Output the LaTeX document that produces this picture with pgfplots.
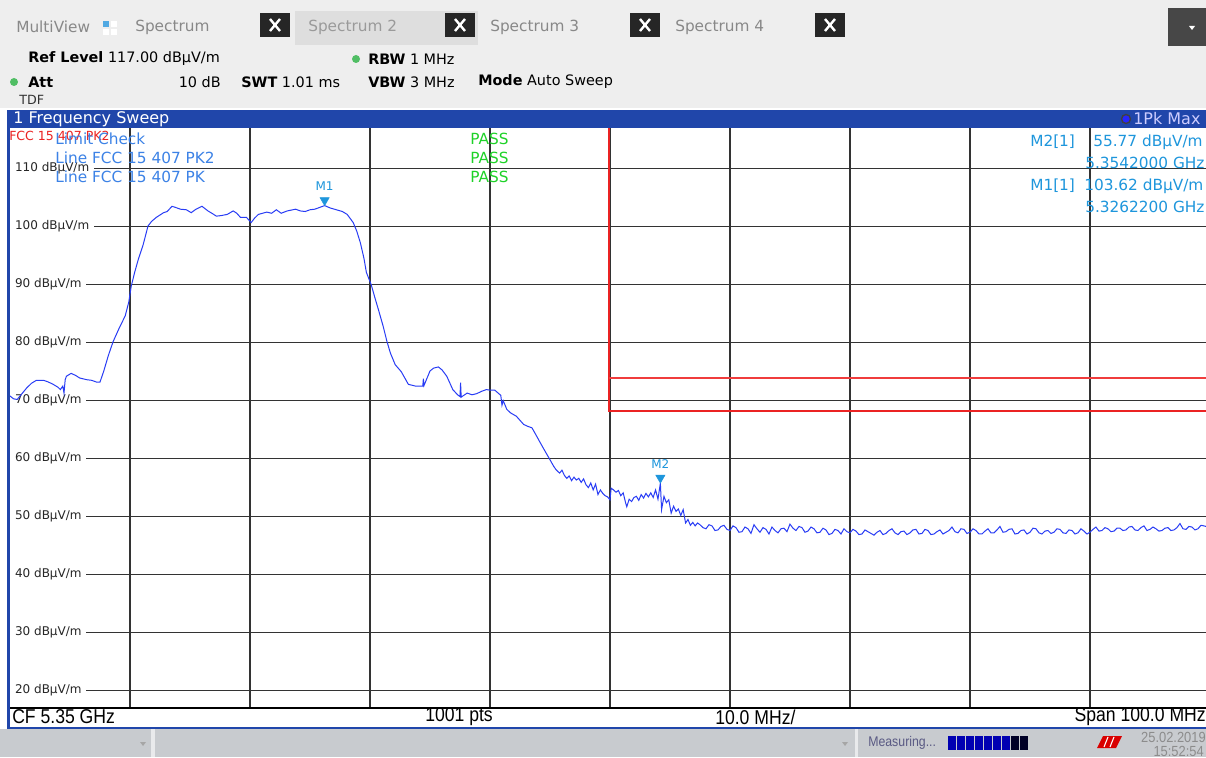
\documentclass[border=0pt]{standalone}
\usepackage{pgfplots}
\pgfplotsset{compat=1.18}
\usepackage{fontspec}
\setmainfont{DejaVu Sans}
\newfontfamily\narrow[FakeStretch=0.88]{Liberation Sans}
\newcommand\fs[1]{\fontsize{#1}{#1}\selectfont}

\definecolor{rsblue}{RGB}{32,70,170}
\definecolor{trace}{RGB}{40,60,245}
\definecolor{mkblue}{RGB}{30,150,220}
\definecolor{lcblue}{RGB}{60,130,230}
\definecolor{passgreen}{RGB}{30,210,40}
\definecolor{limred}{RGB}{235,35,35}
\definecolor{limred2}{RGB}{240,60,60}
\definecolor{hdrgray}{RGB}{238,238,238}
\definecolor{tabgray}{RGB}{136,136,136}
\definecolor{statgray}{RGB}{200,203,207}
\definecolor{dotgreen}{RGB}{80,190,100}

\begin{document}
\begin{tikzpicture}[x=0.75pt,y=0.75pt]
\path[use as bounding box, clip] (0,0) rectangle (1206,757);
\fill[white] (0,0) rectangle (1206,757);

% header
\fill[hdrgray] (0,649) rectangle (1206,757);
\fill[black!13] (295,712) rectangle (478,746);
\foreach \cx in {275,460,645,830} {
  \fill[black!85] (\cx-15,720) rectangle (\cx+15,744);
  \draw[white, line width=1.8pt] (\cx-5,726)--(\cx+5,738) (\cx-5,738)--(\cx+5,726);
}
\fill[black!72] (1168,711) rectangle (1206,749);
\fill[white] (1189,731) -- (1195,731) -- (1192,727) -- cycle;
\node[anchor=west, text=tabgray, font=\fs{11.5}, inner sep=0] at (16,730) {MultiView};
\fill[cyan!75!blue!70] (103,730) rectangle (109,736);
\fill[white] (111,730) rectangle (117,736);
\fill[white] (103,722) rectangle (109,728);
\fill[white] (111,722) rectangle (117,728);
\node[anchor=west, text=tabgray, font=\fs{11.5}, inner sep=0] at (135,730) {Spectrum};
\node[anchor=west, text=tabgray!85, font=\fs{11.5}, inner sep=0] at (308,730) {Spectrum 2};
\node[anchor=west, text=tabgray, font=\fs{11.5}, inner sep=0] at (490,730) {Spectrum 3};
\node[anchor=west, text=tabgray, font=\fs{11.5}, inner sep=0] at (675,730) {Spectrum 4};

\node[anchor=west, font=\fs{10.8}, inner sep=0] at (28,698) {\textbf{Ref Level} 117.00 dBµV/m};
\fill[dotgreen] (356,698) circle (4);
\node[anchor=west, font=\fs{10.8}, inner sep=0] at (368,698) {\textbf{RBW} 1 MHz};
\fill[dotgreen] (14,675) circle (4);
\node[anchor=west, font=\fs{10.8}, inner sep=0] at (28,675) {\textbf{Att}};
\node[anchor=east, font=\fs{10.8}, inner sep=0] at (221,675) {10 dB};
\node[anchor=west, font=\fs{10.8}, inner sep=0] at (241,675) {\textbf{SWT} 1.01 ms};
\node[anchor=west, font=\fs{10.8}, inner sep=0] at (368,675) {\textbf{VBW} 3 MHz};
\node[anchor=west, font=\fs{10.8}, inner sep=0] at (478,675) {\textbf{Mode} Auto Sweep};
\node[anchor=west, font=\fs{9.5}, text=black!80, inner sep=0] at (19,657) {TDF};

% title bar
\fill[rsblue] (7,629) rectangle (1206,647);
\node[anchor=west, text=white, font=\fs{12}, inner sep=0] at (13,638) {1 Frequency Sweep};
\filldraw[fill=blue!85!white, draw=black!75, line width=1pt] (1126,638) circle (4.5);
\node[anchor=west, text=white!80!blue, font=\fs{12}, inner sep=0] at (1133,638) {1Pk Max};

\begin{axis}[
    at={(7.5pt,36.75pt)}, anchor=south west,
    scale only axis,
    width=897pt, height=435pt,
    xmin=5300, xmax=5399.67,
    ymin=17, ymax=117,
    axis line style={draw=none},
    tick style={draw=none},
    grid=major,
    major grid style={black!80, line width=0.9pt},
    xtick={5310,5320,...,5390},
    xticklabels={},
    ytick={20,30,...,110},
    yticklabels={20 dBµV/m,30 dBµV/m,40 dBµV/m,50 dBµV/m,60 dBµV/m,70 dBµV/m,80 dBµV/m,90 dBµV/m,100 dBµV/m,110 dBµV/m},
    yticklabel style={anchor=west, xshift=0pt, fill=white, inner xsep=3.6pt, inner ysep=1pt, font=\fs{9}, text=black!85},
    ]
    % limit lines
    \addplot[limred, line width=1.2pt] coordinates {
        (5349.92,117) (5349.92,68.2) (5399.67,68.2)
    };
    \addplot[draw=limred2, line width=1.5pt] coordinates {
        (5349.92,73.93) (5399.67,73.93)
    };
    % trace 1Pk Max
    \addplot[trace, line width=0.75pt] coordinates {
        (5300.0,70.8) (5300.3,70.3) (5300.6,70.2) (5301.0,71.2) (5301.4,72.2)
        (5301.8,73.0) (5302.2,73.5) (5302.8,73.5) (5303.2,73.2) (5303.6,72.8)
        (5304.0,72.3) (5304.2,71.9) (5304.4,72.5) (5304.5,71.3) (5304.6,73.6)
        (5304.7,74.2) (5305.1,74.7) (5305.5,74.3) (5305.8,73.9) (5306.4,73.6)
        (5306.8,73.5) (5307.2,73.2) (5307.5,73.2) (5307.8,75.0) (5308.2,77.8)
        (5308.6,80.2) (5309.1,82.5) (5309.6,84.6) (5309.9,87.0) (5310.1,89.7)
        (5310.4,92.2) (5310.7,94.4) (5311.1,96.9) (5311.5,100.1) (5311.8,100.9)
        (5312.2,101.6) (5312.8,102.4) (5313.1,102.6) (5313.5,103.5) (5313.8,103.3)
        (5314.2,103.0) (5314.7,102.9) (5315.1,102.4) (5315.5,103.0) (5316.0,103.5)
        (5316.5,102.7) (5316.9,102.2) (5317.2,101.8) (5317.6,101.9) (5318.1,102.1)
        (5318.6,102.7) (5318.9,102.3) (5319.2,101.6) (5319.7,101.6) (5320.1,100.7)
        (5320.4,101.5) (5320.7,102.1) (5321.4,102.5) (5321.8,102.3) (5322.2,102.9)
        (5322.6,102.3) (5323.1,102.7) (5323.8,103.0) (5324.2,102.7) (5324.6,102.6)
        (5325.0,102.9) (5325.4,103.0) (5325.8,103.3) (5326.22,103.62) (5326.7,103.2)
        (5327.2,102.9) (5327.7,102.6) (5328.1,102.1) (5328.6,100.7) (5328.9,99.2)
        (5329.2,97.2) (5329.5,94.5) (5329.7,92.1) (5330.1,90.0) (5330.4,87.8)
        (5330.7,85.7) (5331.1,82.8) (5331.4,80.3) (5331.7,78.2) (5332.1,76.2)
        (5332.6,75.0) (5333.2,72.8) (5333.8,72.5) (5334.4,72.5) (5334.45,73.8)
        (5334.5,72.6) (5335.0,75.1) (5335.3,75.6) (5335.7,75.8) (5336.0,75.3)
        (5336.4,74.2) (5336.9,71.9) (5337.3,71.0) (5337.5,70.7) (5337.55,73.1)
        (5337.6,70.6) (5338.1,71.3) (5338.5,71.0) (5338.9,71.2) (5339.3,71.6)
        (5339.7,71.9) (5340.0,71.8) (5340.4,71.8) (5340.9,70.9) (5341.0,69.2)
        (5341.1,70.0) (5341.4,68.5) (5341.7,67.9) (5342.2,67.3) (5342.5,66.6)
        (5342.8,65.9) (5343.1,65.6) (5343.5,65.3) (5343.8,64.2) (5344.2,62.7)
        (5344.5,61.6) (5345.0,59.8) (5345.3,58.7) (5345.5,58.1) (5345.8,57.5)
        (5346.0,58.0) (5346.2,57.1) (5346.4,56.6) (5346.6,57.0) (5346.8,56.2)
        (5347.0,56.8) (5347.2,56.3) (5347.4,56.6) (5347.6,55.9) (5347.8,56.5)
        (5348.0,55.5) (5348.2,55.0) (5348.4,55.8) (5348.6,54.6) (5348.8,55.6)
        (5349.0,53.8) (5349.2,54.6) (5349.4,54.0) (5349.6,53.6) (5349.8,53.4)
        (5350.0,52.9) (5350.1,54.9) (5350.3,54.6) (5350.5,54.2) (5350.7,54.5)
        (5350.9,53.6) (5351.1,54.1) (5351.3,52.4) (5351.4,51.7) (5351.6,53.0)
        (5351.8,52.6) (5352.0,53.3) (5352.2,53.5) (5352.4,52.8) (5352.6,53.8)
        (5352.8,53.2) (5353.0,54.0) (5353.2,53.4) (5353.4,54.1) (5353.6,53.3)
        (5353.8,54.6) (5354.0,53.0) (5354.2,55.77) (5354.3,51.2) (5354.5,53.5)
        (5354.7,52.4) (5354.9,52.9) (5355.1,50.6) (5355.3,51.8) (5355.5,50.9)
        (5355.7,51.3) (5355.9,50.2) (5356.1,51.2) (5356.3,48.9) (5356.5,49.5)
        (5356.7,48.5) (5356.9,49.0) (5357.1,48.4) (5357.3,48.9)
        (5357.50,48.6) (5357.75,48.1) (5358.00,47.9) (5358.25,48.6) (5358.50,48.4)
        (5358.75,47.6) (5359.00,47.7) (5359.25,48.3) (5359.50,48.5) (5359.75,47.8)
        (5360.00,47.6) (5360.25,48.4) (5360.50,48.1) (5360.75,47.3) (5361.00,47.4)
        (5361.25,48.2) (5361.50,47.9) (5361.75,47.1) (5362.00,48.6) (5362.25,47.9)
        (5362.50,47.3) (5362.75,48.1) (5363.00,47.8) (5363.25,47.0) (5363.50,48.2)
        (5363.75,47.6) (5364.00,47.2) (5364.25,47.9) (5364.50,48.0) (5364.75,47.4)
        (5365.00,48.7) (5365.25,48.0) (5365.50,47.6) (5365.75,48.3) (5366.00,48.1)
        (5366.25,47.3) (5366.50,47.5) (5366.75,48.2) (5367.00,47.9) (5367.25,47.2)
        (5367.50,47.3) (5367.75,48.0) (5368.00,47.7) (5368.25,46.9) (5368.50,47.1)
        (5368.75,47.8) (5369.00,47.6) (5369.25,47.0) (5369.50,47.9) (5369.75,47.4)
        (5370.00,47.2) (5370.25,47.8) (5370.50,47.5) (5370.75,46.9) (5371.00,47.0)
        (5371.25,47.7) (5371.50,47.4) (5371.75,47.1) (5372.00,46.8) (5372.25,47.3)
        (5372.50,47.6) (5372.75,46.9) (5373.00,47.1) (5373.25,47.6) (5373.50,47.9)
        (5373.75,47.2) (5374.00,46.9) (5374.25,47.4) (5374.50,47.5) (5374.75,46.9)
        (5375.00,47.2) (5375.25,47.7) (5375.50,47.8) (5375.75,47.0) (5376.00,47.1)
        (5376.25,47.8) (5376.50,47.6) (5376.75,46.9) (5377.00,47.0) (5377.25,47.4)
        (5377.50,47.7) (5377.75,47.0) (5378.00,47.3) (5378.25,47.6) (5378.50,48.2)
        (5378.75,47.4) (5379.00,47.2) (5379.25,47.9) (5379.50,47.8) (5379.75,47.1)
        (5380.00,47.3) (5380.25,47.9) (5380.50,47.6) (5380.75,47.0) (5381.00,47.0)
        (5381.25,47.5) (5381.50,47.9) (5381.75,47.2) (5382.00,47.2) (5382.25,47.7)
        (5382.50,48.3) (5382.75,47.3) (5383.00,47.4) (5383.25,47.8) (5383.50,47.9)
        (5383.75,47.0) (5384.00,47.1) (5384.25,47.6) (5384.50,47.7) (5384.75,47.0)
        (5385.00,47.3) (5385.25,48.0) (5385.50,47.9) (5385.75,47.2) (5386.00,47.0)
        (5386.25,47.5) (5386.50,47.6) (5386.75,47.1) (5387.00,47.3) (5387.25,47.9)
        (5387.50,47.8) (5387.75,47.2) (5388.00,47.1) (5388.25,47.7) (5388.50,47.6)
        (5388.75,47.0) (5389.00,47.2) (5389.25,47.9) (5389.50,47.5) (5389.75,47.0)
        (5390.00,47.3) (5390.25,47.8) (5390.50,48.2) (5390.75,47.5) (5391.00,47.6)
        (5391.25,48.1) (5391.50,47.9) (5391.75,47.4) (5392.00,47.5) (5392.25,48.0)
        (5392.50,48.0) (5392.75,47.6) (5393.00,47.7) (5393.25,48.2) (5393.50,48.3)
        (5393.75,47.7) (5394.00,47.6) (5394.25,48.1) (5394.50,48.4) (5394.75,47.6)
        (5395.00,47.8) (5395.25,48.2) (5395.50,47.9) (5395.75,47.5) (5396.00,47.6)
        (5396.25,48.0) (5396.50,48.1) (5396.75,47.6) (5397.00,47.7) (5397.25,48.1)
        (5397.50,48.8) (5397.75,47.9) (5398.00,47.8) (5398.25,48.3) (5398.50,48.2)
        (5398.75,47.7) (5399.00,47.9) (5399.25,48.5) (5399.50,48.4) (5399.67,48.3)
    };
    % markers M1, M2
    \addplot[only marks, mark=triangle*, mark size=4pt, color=mkblue,
        mark options={yshift=4pt, rotate=180},
        nodes near coords, point meta=explicit symbolic,
        every node near coord/.style={anchor=south, yshift=7pt, inner sep=0pt,
            font=\fs{9}, text=mkblue}]
        coordinates {(5326.22,103.62) [M1] (5354.2,55.77) [M2]};
\end{axis}

% frame of the diagram
\fill[rsblue] (7,28) rectangle (10,647);
\draw[black, line width=0.9pt] (10,49) -- (1206,49);
\fill[rsblue] (7,28) rectangle (1206,30);

% limit check texts
\node[anchor=west, text=limred, font=\fs{9.4}, inner sep=0] at (9,621) {FCC 15 407 PK2};
\node[anchor=west, text=lcblue, font=\fs{11.5}, inner sep=0] at (55,618) {Limit Check};
\node[anchor=west, text=lcblue, font=\fs{11.5}, inner sep=0] at (55,599) {Line FCC 15 407 PK2};
\node[anchor=west, text=lcblue, font=\fs{11.5}, inner sep=0] at (55,580) {Line FCC 15 407 PK};
\foreach \yy in {618,599,580}
  \node[anchor=west, text=passgreen, font=\fs{11.5}, inner sep=0] at (470,\yy) {PASS};

% marker table
\node[anchor=west, text=mkblue, font=\fs{11.5}, inner sep=0] at (1030,615) {M2[1]};
\node[anchor=west, text=mkblue, font=\fs{11.5}, inner sep=0] at (1093,615) {55.77 dBµV/m};
\node[anchor=west, text=mkblue, font=\fs{11.5}, inner sep=0] at (1085,594) {5.3542000 GHz};
\node[anchor=west, text=mkblue, font=\fs{11.5}, inner sep=0] at (1030,571) {M1[1]};
\node[anchor=west, text=mkblue, font=\fs{11.5}, inner sep=0] at (1084,571) {103.62 dBµV/m};
\node[anchor=west, text=mkblue, font=\fs{11.5}, inner sep=0] at (1085,550) {5.3262200 GHz};

% bottom bar
\node[anchor=west, font=\narrow\fs{15}, inner sep=0] at (12,40) {CF 5.35 GHz};
\node[anchor=west, font=\narrow\fs{15}, inner sep=0] at (425,40) {1001 pts};
\node[anchor=west, font=\narrow\fs{15}, inner sep=0] at (715,40) {10.0 MHz/};
\node[anchor=east, font=\narrow\fs{15}, inner sep=0] at (1206,40) {Span 100.0 MHz};

% status bar
\fill[statgray] (0,0) rectangle (1206,28);
\fill[white!60!statgray] (151,0) rectangle (155,28);
\fill[white!60!statgray] (855,0) rectangle (858,28);
\fill[black!35] (140,15) -- (146,15) -- (143,11) -- cycle;
\fill[black!35] (842,15) -- (848,15) -- (845,11) -- cycle;
\node[anchor=west, text=black!45!blue!30!gray, font=\narrow\fs{10.5}, inner sep=0] at (868,14) {Measuring...};
\foreach \i in {0,...,6}
  \fill[blue!70!black] (948+\i*9,7) rectangle (948+\i*9+7.6,21);
\foreach \i in {7,8}
  \fill[black!85!blue] (948+\i*9,7) rectangle (948+\i*9+7.6,21);
\fill[red!85!black] (1097,9) -- (1103,21) -- (1122,21) -- (1116,9) -- cycle;
\draw[white, line width=0.8pt] (1104,10) -- (1108,20) (1110,10) -- (1114,20);
\node[anchor=east, text=black!45, font=\narrow\fs{11}, inner sep=0] at (1206,20) {25.02.2019};
\node[anchor=east, text=black!45, font=\narrow\fs{11}, inner sep=0] at (1204,6) {15:52:54};
\end{tikzpicture}
\end{document}
